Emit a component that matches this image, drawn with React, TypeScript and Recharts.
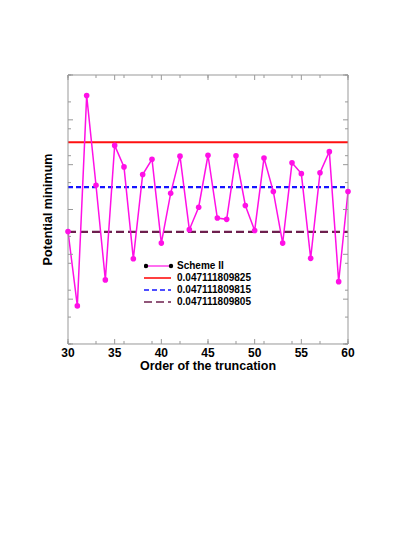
import { LineChart, Line, XAxis, YAxis, ReferenceLine, Legend } from 'recharts';

// order of the truncation
const orders = [30, 31, 32, 33, 34, 35, 36, 37, 38, 39, 40, 41, 42, 43, 44, 45, 46, 47, 48, 49, 50, 51, 52, 53, 54, 55, 56, 57, 58, 59, 60];

// Scheme II potential minimum
const schemeII = [
  0.0471118098051, 0.0471118097885, 0.0471118098354, 0.0471118098154, 0.0471118097943,
  0.0471118098243, 0.0471118098195, 0.047111809799, 0.0471118098178, 0.0471118098212,
  0.0471118098025, 0.0471118098136, 0.0471118098219, 0.0471118098055, 0.0471118098105,
  0.0471118098221, 0.0471118098081, 0.0471118098078, 0.047111809822, 0.0471118098109,
  0.0471118098053, 0.0471118098215, 0.047111809814, 0.0471118098025, 0.0471118098204,
  0.047111809818, 0.0471118097991, 0.0471118098182, 0.0471118098229, 0.0471118097939,
  0.047111809814,
];

const refValues = [0.047111809825, 0.047111809815, 0.047111809805];
const refLabels = ['0.047111809825', '0.047111809815', '0.047111809805'];

const xTicks = [30, 35, 40, 45, 50, 55, 60];
const xDomain = [30, 60];
const yDomain = [0.04711180978, 0.04711180984];
const yTicks = [0.04711180978, 0.04711180979, 0.0471118098, 0.04711180981, 0.04711180982, 0.04711180983, 0.04711180984];

const xMinor = orders;
const yMinor = Array.from({ length: 31 }, (_, i) => yDomain[0] + (i * (yDomain[1] - yDomain[0])) / 30);

const data = orders.map((o, i) => ({ order: o, value: schemeII[i] }));

const FONT = '"Liberation Sans", Arial, sans-serif';
const MAGENTA = '#ff10e6';
const FRAME = '#999999';
const THIN = 0.01;

const noLabel = () => <g />;

function LegendBox() {
  const rows = [
    { color: '#ff1010', dash: undefined, label: refLabels[0] },
    { color: '#1515ff', dash: '5 3', label: refLabels[1] },
    { color: '#6e1f4e', dash: '8 4', label: refLabels[2] },
  ];
  return (
    <div style={{ fontFamily: FONT, fontSize: 10, fontWeight: 'bold', lineHeight: '12px', color: '#000' }}>
      <div style={{ display: 'flex', alignItems: 'center', height: 12 }}>
        <svg width={33} height={8}>
          <line x1={2} x2={27} y1={4} y2={4} stroke={MAGENTA} strokeWidth={1.2} />
          <circle cx={2} cy={4} r={2.2} fill="#000" />
          <circle cx={27} cy={4} r={2.2} fill="#000" />
        </svg>
        <span>Scheme II</span>
      </div>
      {rows.map((r) => (
        <div key={r.label} style={{ display: 'flex', alignItems: 'center', height: 12 }}>
          <svg width={33} height={8}>
            <line x1={0} x2={27} y1={4} y2={4} stroke={r.color} strokeWidth={1.6} strokeDasharray={r.dash} />
          </svg>
          <span>{r.label}</span>
        </div>
      ))}
    </div>
  );
}

export default function App() {
  const tickStyle = { fontFamily: FONT, fontSize: 12, fontWeight: 'bold', fill: '#000' };
  const labelStyle = { fontFamily: FONT, fontSize: 12.5, fontWeight: 'bold', fill: '#000' };
  const tl = { stroke: FRAME };

  const yLabel = (props: any) => {
    const vb = props.viewBox;
    const cx = vb.x - 20;
    const cy = vb.y + vb.height / 2;
    return (
      <text x={cx} y={cy} transform={`rotate(-90 ${cx} ${cy})`} textAnchor="middle" dominantBaseline="central" style={labelStyle}>
        Potential minimum
      </text>
    );
  };

  // hidden helper series so that each tick-only axis gets drawn
  const ghost = (xId: string, yId: string) => (
    <Line
      key={xId + yId}
      xAxisId={xId}
      yAxisId={yId}
      dataKey="value"
      stroke="transparent"
      strokeOpacity={0}
      dot={false}
      activeDot={false}
      legendType="none"
      isAnimationActive={false}
    />
  );

  return (
    <div style={{ position: 'absolute', left: 0, top: 0, background: '#fff' }}>
      <LineChart width={419} height={542} data={data} margin={{ top: 75, right: 71, bottom: 198, left: 68 }}>
        <XAxis
          xAxisId="main"
          dataKey="order"
          type="number"
          domain={xDomain}
          ticks={xTicks}
          height={THIN}
          tickSize={0}
          tickMargin={4.5}
          tick={tickStyle}
          tickLine={false}
          axisLine={tl}
          label={{ value: 'Order of the truncation', position: 'bottom', offset: 17, style: labelStyle }}
        />
        <XAxis xAxisId="bMaj" dataKey="order" type="number" domain={xDomain} ticks={xTicks} height={THIN} mirror tickSize={5} tick={noLabel} axisLine={false} tickLine={tl} />
        <XAxis xAxisId="bMin" dataKey="order" type="number" domain={xDomain} ticks={xMinor} height={THIN} mirror tickSize={3} tick={noLabel} axisLine={false} tickLine={tl} />
        <XAxis xAxisId="tMaj" dataKey="order" orientation="top" type="number" domain={xDomain} ticks={xTicks} height={THIN} mirror tickSize={5} tick={noLabel} axisLine={tl} tickLine={tl} />
        <XAxis xAxisId="tMin" dataKey="order" orientation="top" type="number" domain={xDomain} ticks={xMinor} height={THIN} mirror tickSize={3} tick={noLabel} axisLine={false} tickLine={tl} />
        <YAxis
          yAxisId="main"
          type="number"
          domain={yDomain}
          ticks={yTicks}
          allowDataOverflow
          width={THIN}
          mirror
          tickSize={5}
          tick={noLabel}
          axisLine={tl}
          tickLine={tl}
          label={yLabel}
        />
        <YAxis yAxisId="lMin" type="number" domain={yDomain} ticks={yMinor} allowDataOverflow width={THIN} mirror tickSize={3} tick={noLabel} axisLine={false} tickLine={tl} />
        <YAxis yAxisId="rMaj" orientation="right" type="number" domain={yDomain} ticks={yTicks} allowDataOverflow width={THIN} mirror tickSize={5} tick={noLabel} axisLine={tl} tickLine={tl} />
        <YAxis yAxisId="rMin" orientation="right" type="number" domain={yDomain} ticks={yMinor} allowDataOverflow width={THIN} mirror tickSize={3} tick={noLabel} axisLine={false} tickLine={tl} />
        {ghost('bMaj', 'lMin')}
        {ghost('bMin', 'rMaj')}
        {ghost('tMaj', 'rMin')}
        {ghost('tMin', 'rMin')}
        <ReferenceLine xAxisId="main" yAxisId="main" y={refValues[0]} stroke="#ff1010" strokeWidth={2.2} />
        <ReferenceLine xAxisId="main" yAxisId="main" y={refValues[1]} stroke="#1515ff" strokeWidth={2.2} strokeDasharray="5 3" />
        <ReferenceLine xAxisId="main" yAxisId="main" y={refValues[2]} stroke="#6e1f4e" strokeWidth={2.2} strokeDasharray="8 4" />
        <Line
          xAxisId="main"
          yAxisId="main"
          dataKey="value"
          stroke={MAGENTA}
          strokeWidth={1.5}
          dot={{ r: 2.8, fill: MAGENTA, stroke: MAGENTA, strokeWidth: 0 }}
          isAnimationActive={false}
        />
        <Legend
          layout="horizontal"
          verticalAlign="middle"
          align="center"
          content={() => <LegendBox />}
          wrapperStyle={{ position: 'absolute', left: 144, top: 260, width: 'auto' }}
        />
      </LineChart>
    </div>
  );
}
